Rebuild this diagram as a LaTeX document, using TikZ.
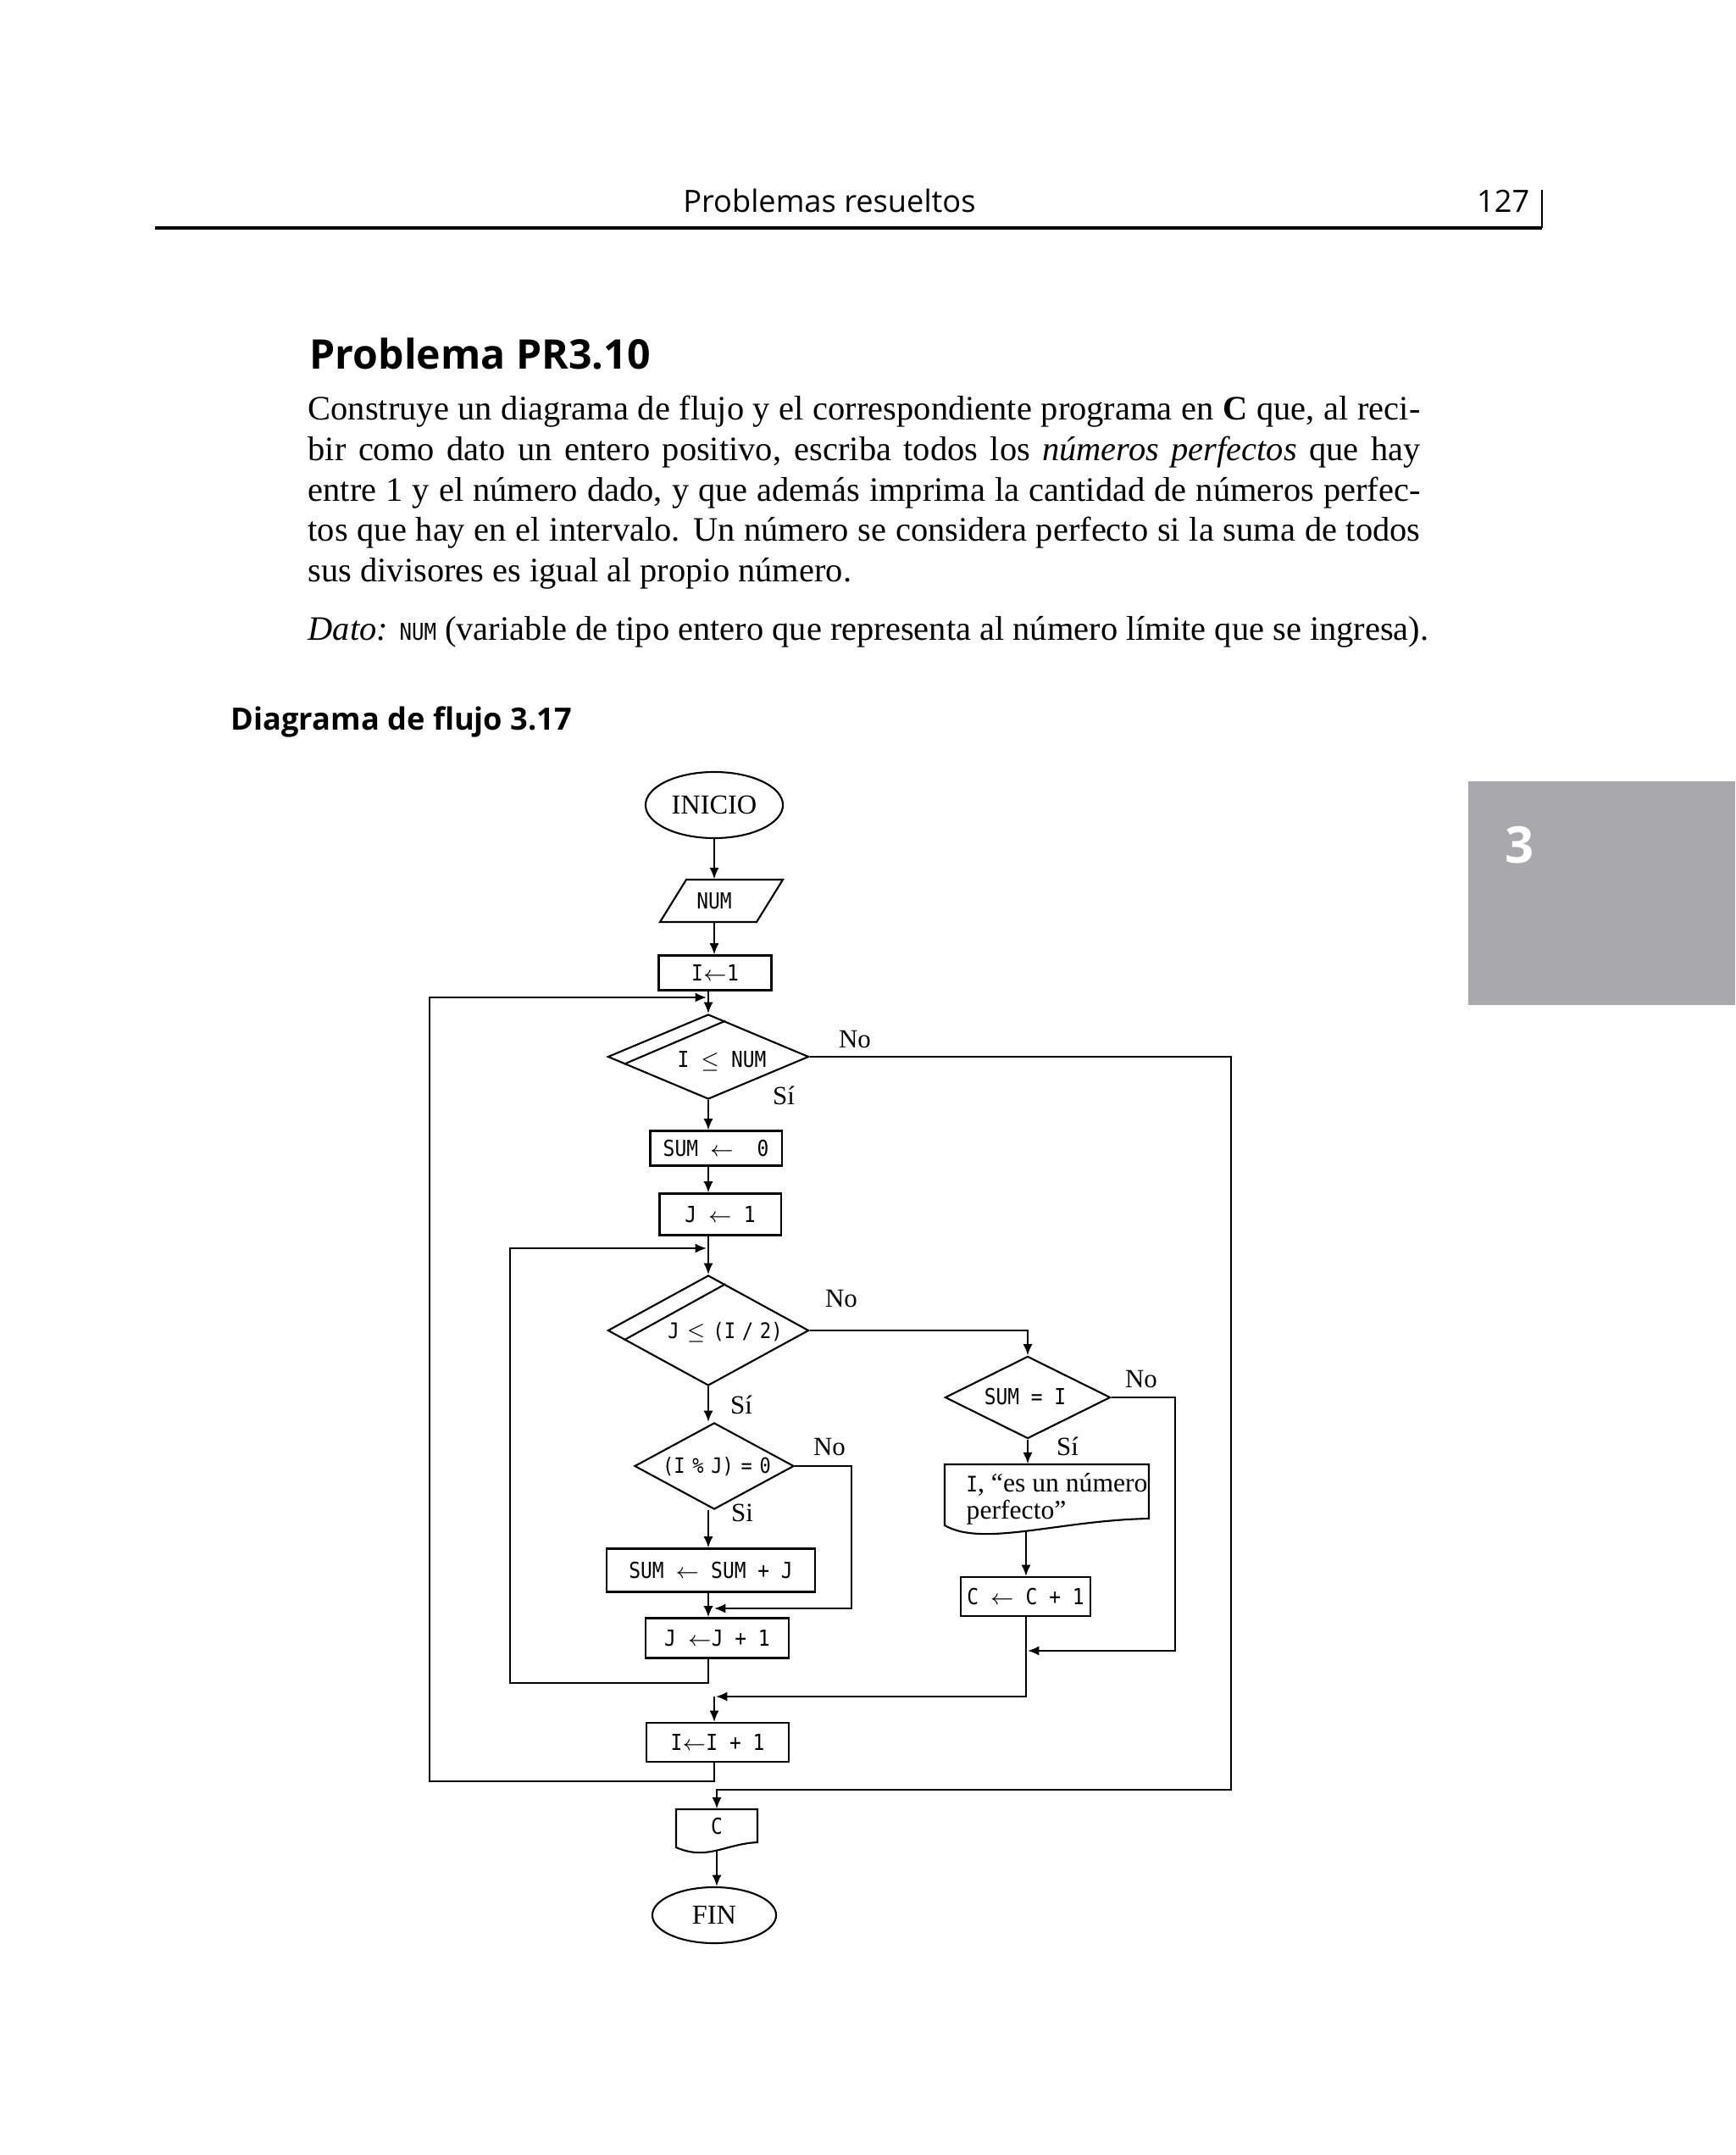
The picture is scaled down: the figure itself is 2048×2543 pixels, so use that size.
\documentclass[tikz,border=0pt]{standalone}
\usepackage{fontspec}
\setmainfont{Liberation Serif}
\newfontfamily\hdfont{Open Sans}
\newfontfamily\codefont[FakeStretch=0.88]{DejaVu Sans Mono}
\usetikzlibrary{shapes.geometric,arrows.meta,calc}
\definecolor{tabgray}{HTML}{A9A8AC}
\begin{document}
\begin{tikzpicture}[x=0.01cm,y=-0.01cm,
  ln/.style={line width=0.6pt},
  arr/.style={ln,-{Latex[length=3.8pt,width=3.2pt]}},
  code/.style={font=\codefont\fontsize{7.4}{8.5}\selectfont},
  serif/.style={font=\fontsize{9.2}{10}\selectfont},
  lbl/.style={font=\fontsize{8.8}{10}\selectfont, inner sep=0pt},
  proc/.style={draw, ln, rectangle, code, inner sep=0pt},
  dec/.style={draw, ln, diamond, inner sep=0pt},
  term/.style={draw, ln, ellipse, serif, inner sep=0pt},
  ghost/.style={rectangle, inner sep=0pt},
  body/.style={anchor=base west, inner sep=0pt, font=\fontsize{11.5}{13.6}\selectfont},
]
\useasboundingbox (0,0) rectangle (2048,2543);
\fill[white] (0,0) rectangle (2048,2543);

% header
\node[anchor=base, inner sep=0pt, font=\hdfont\fontsize{10.3}{12}\selectfont] (hd) at (979,251) {Problemas resueltos};
\node[anchor=base east, inner sep=0pt, font=\hdfont\fontsize{10.3}{12}\selectfont] (pg) at (1806,251) {127};
\draw[line width=1pt] (183,269) -- (1820,269);
\draw[ln] (1820,224) -- (1820,269.5);

% title and text
\node[anchor=base west, inner sep=0pt, font=\hdfont\bfseries\fontsize{13.7}{16}\selectfont] (ttl) at (365,436) {Problema PR3.10};
\node[body] (l1) at (363,496) {\makebox[13.12cm][s]{Construye un diagrama de flujo y el correspondiente programa en \textbf{C} que, al reci-}};
\node[body] (l2) at (363,543.5) {\makebox[13.12cm][s]{bir como dato un entero positivo, escriba todos los \textit{números perfectos} que hay}};
\node[body] (l3) at (363,591) {\makebox[13.12cm][s]{entre 1 y el número dado, y que además imprima la cantidad de números perfec-}};
\node[body] (l4) at (363,638.5) {\makebox[13.12cm][s]{tos que hay en el intervalo. Un número se considera perfecto si la suma de todos}};
\node[body] (l5) at (363,686) {sus divisores es igual al propio número.};
\node[body] (l6) at (363,755) {\textit{Dato:} {\codefont\fontsize{7.8}{9}\selectfont NUM} (variable de tipo entero que representa al número límite que se ingresa).};
\node[anchor=base west, inner sep=0pt, font=\hdfont\bfseries\fontsize{10.3}{13}\selectfont] (dg) at (272,861) {Diagrama de flujo 3.17};

% side tab
\fill[tabgray] (1733,922) rectangle (2048,1186);
\node[inner sep=0pt, text=white, font=\hdfont\bfseries\fontsize{17}{20}\selectfont] (tab) at (1794,997) {3};

% ---------- flowchart ----------
\node[term, minimum width=1.62cm, minimum height=0.78cm] (inicio) at (843,950) {INICIO};
\node[ghost, code, minimum width=1.1cm, minimum height=0.5cm] (num) at (843,1063) {NUM};
\draw[ln] (810,1038) -- (924,1038) -- (893,1088) -- (779,1088) -- cycle;
\node[proc, minimum width=1.33cm, minimum height=0.41cm] (i1) at (844,1148) {I\(\leftarrow\)1};

\node[dec, minimum width=2.37cm, minimum height=1.0cm] (d1) at (836,1247) {};
\node[code, inner sep=0pt] (d1t) at (852,1252) {I \(\leq\) NUM};
\draw[ln] ($(d1.north)!0.17!(d1.east)$) -- ($(d1.west)!0.17!(d1.south)$);
\node[lbl] (d1no) at (1009,1227) {No};
\node[lbl] (d1si) at (925,1293) {Sí};

\node[proc, minimum width=1.55cm, minimum height=0.41cm] (s0) at (845,1355) {SUM \(\leftarrow\)\ \ 0};
\node[proc, minimum width=1.43cm, minimum height=0.49cm] (j1) at (850,1433) {J \(\leftarrow\) 1};

\node[dec, minimum width=2.37cm, minimum height=1.30cm] (d2) at (836,1570) {};
\node[code, inner sep=0pt, font=\codefont\fontsize{7.2}{8}\selectfont] (d2t) at (856,1572) {J\hspace{0.35em}\(\leq\)\hspace{0.35em}(I\hspace{0.3em}/\hspace{0.3em}2)};
\draw[ln] ($(d2.north)!0.17!(d2.east)$) -- ($(d2.west)!0.17!(d2.south)$);
\node[lbl] (d2no) at (993,1533) {No};
\node[lbl] (d2si) at (875,1658) {Sí};

\node[dec, minimum width=1.88cm, minimum height=1.02cm] (d4) at (843,1730) {};
\node[code, inner sep=0pt, font=\codefont\fontsize{7.1}{8}\selectfont] (d4t) at (846,1731) {(I\hspace{0.35em}\%\hspace{0.35em}J)\hspace{0.35em}=\hspace{0.35em}0};
\node[lbl] (d4no) at (979,1708) {No};
\node[lbl] (d4si) at (876,1785) {Si};

\node[proc, minimum width=2.46cm, minimum height=0.51cm] (s1) at (839,1853) {SUM \(\leftarrow\) SUM + J};
\node[proc, minimum width=1.69cm, minimum height=0.47cm] (j2) at (846.5,1933) {J \(\leftarrow\)J + 1};

\node[dec, minimum width=1.95cm, minimum height=0.97cm] (d3) at (1213,1649) {};
\node[code, inner sep=0pt] (d3t) at (1210,1648) {SUM = I};
\node[lbl] (d3no) at (1347,1628) {No};
\node[lbl] (d3si) at (1260,1707) {Sí};

\node[ghost, minimum width=2.41cm, minimum height=0.64cm] (pr) at (1235.5,1760) {};
\node[anchor=west, inner sep=0pt, align=left, font=\fontsize{9}{9}\selectfont] (prt) at (1140,1769) {{\codefont\fontsize{7.2}{8}\selectfont I}, “es un número\\perfecto”};
\draw[ln] (1115,1728) -- (1356,1728) -- (1356,1792) .. controls (1250,1794) and (1160,1826) .. (1115,1800) -- cycle;
\coordinate (prb) at (1211,1806);

\node[proc, minimum width=1.53cm, minimum height=0.46cm] (c2) at (1210.5,1884) {C \(\leftarrow\) C + 1};

\node[proc, minimum width=1.68cm, minimum height=0.46cm] (i2) at (847,2056) {I\(\leftarrow\)I + 1};

\node[ghost, code, minimum width=0.96cm, minimum height=0.40cm] (c) at (846,2155) {C};
\draw[ln] (798,2135) -- (894,2135) -- (894,2174) .. controls (855,2176) and (835,2196) .. (798,2180) -- cycle;
\coordinate (cb) at (846,2184);

\node[term, minimum width=1.46cm, minimum height=0.66cm] (fin) at (843,2260) {FIN};

% bend / merge coordinates
\coordinate (iloop) at (834,1177);
\coordinate (iLB) at (507,2102);
\coordinate (jloop) at (834,1473);
\coordinate (jLB) at (602,1986);
\coordinate (nR) at (1453,2112);
\coordinate (d4R) at (1005,1898);
\coordinate (m1) at (843,1898);
\coordinate (d3R) at (1387,1948);
\coordinate (m2) at (1213,1948);
\coordinate (m3) at (845,2002);

% connectors
\draw[arr] (inicio.south) -- (inicio.south |- num.north);
\draw[arr] (num.south) -- (num.south |- i1.north);
\draw[arr] (i1.south -| d1.north) -- (d1.north);
\draw[arr] (i2.south -| m1) |- (iLB) |- (iloop);
\draw[arr] (d1.east) -| (nR) -| (c.north);
\draw[arr] (d1.south) -- (d1.south |- s0.north);
\draw[arr] (s0.south -| d1.south) -- (j1.north -| d1.south);
\draw[arr] (j1.south -| d2.north) -- (d2.north);
\draw[arr] (j2.south -| d2.south) |- (jLB) |- (jloop);
\draw[arr] (d2.east) -| (d3.north);
\draw[arr] (d2.south) -- (d2.south |- d4.north);
\draw[arr] (d4.east) -| (d4R) -- (m1);
\draw[arr] (d4.south -| d2.south) -- (d2.south |- s1.north);
\draw[arr] (s1.south -| d2.south) -- (j2.north -| d2.south);
\draw[arr] (d3.east) -| (d3R) -- (m2);
\draw[arr] (d3.south) -- (d3.south |- pr.north);
\draw[arr] (prb) -- (prb |- c2.north);
\draw[arr] (c2.south -| prb) |- (m3);
\draw[arr] (m3 -| m1) -- (m1 |- i2.north);
\draw[arr] (cb) -- (cb |- fin.north);
\end{tikzpicture}
\end{document}
